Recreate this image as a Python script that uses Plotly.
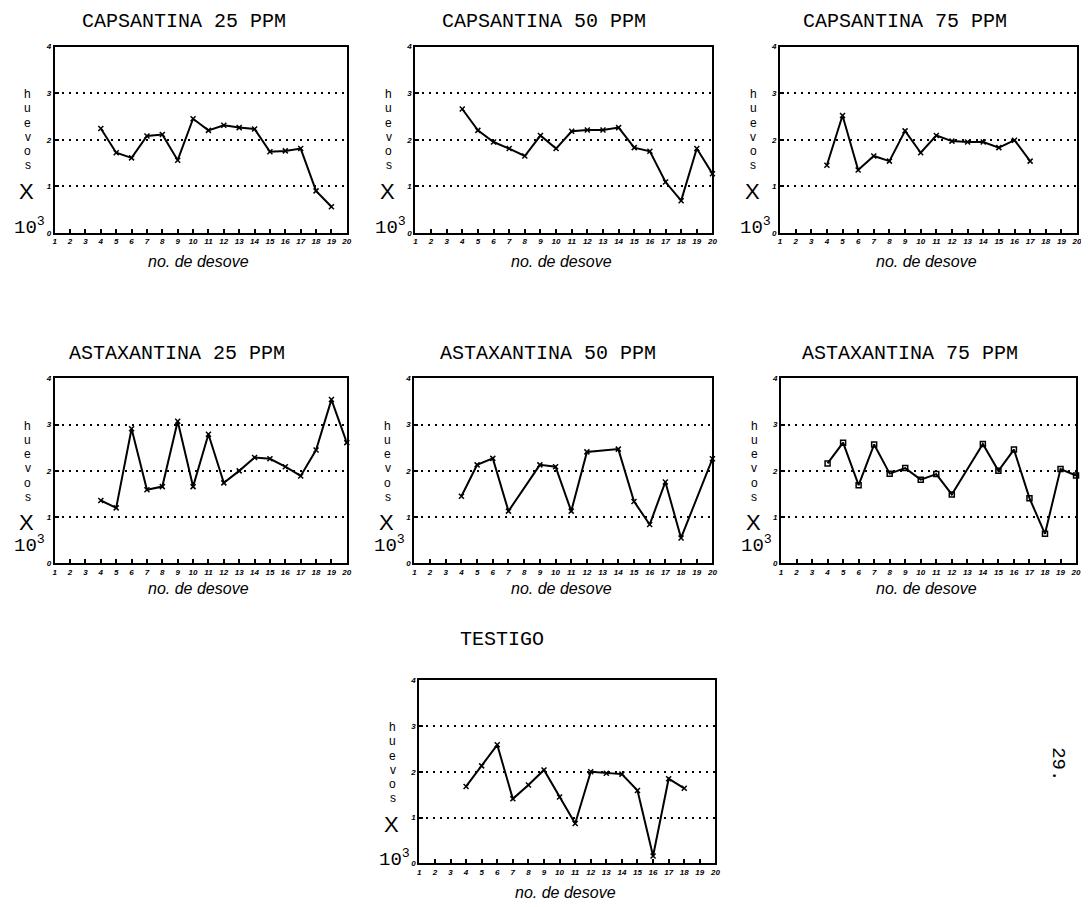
import plotly.graph_objects as go

# ---------------- data ----------------
cap25_x = [4, 5, 6, 7, 8, 9, 10, 11, 12, 13, 14, 15, 16, 17, 18, 19]
cap25_y = [2.24, 1.72, 1.61, 2.08, 2.11, 1.56, 2.45, 2.20, 2.31, 2.26, 2.23, 1.74, 1.76, 1.81, 0.90, 0.56]

cap50_x = [4, 5, 6, 7, 8, 9, 10, 11, 12, 13, 14, 15, 16, 17, 18, 19, 20]
cap50_y = [2.66, 2.20, 1.95, 1.81, 1.65, 2.09, 1.81, 2.18, 2.21, 2.21, 2.26, 1.83, 1.75, 1.09, 0.69, 1.81, 1.27]

cap75_x = [4, 5, 6, 7, 8, 9, 10, 11, 12, 13, 14, 15, 16, 17]
cap75_y = [1.45, 2.52, 1.35, 1.65, 1.54, 2.19, 1.72, 2.09, 1.97, 1.95, 1.95, 1.83, 1.99, 1.54]

ast25_x = [4, 5, 6, 7, 8, 9, 10, 11, 12, 13, 14, 15, 16, 17, 18, 19, 20]
ast25_y = [1.36, 1.20, 2.91, 1.59, 1.66, 3.07, 1.66, 2.79, 1.74, 2.00, 2.29, 2.26, 2.09, 1.89, 2.45, 3.54, 2.61]

ast50_x = [4, 5, 6, 7, 9, 10, 11, 12, 14, 15, 16, 17, 18, 20]
ast50_y = [1.45, 2.13, 2.27, 1.13, 2.13, 2.09, 1.13, 2.41, 2.47, 1.34, 0.84, 1.76, 0.55, 2.26]

ast75_x = [4, 5, 6, 7, 8, 9, 10, 11, 12, 14, 15, 16, 17, 18, 19, 20]
ast75_y = [2.16, 2.61, 1.69, 2.57, 1.94, 2.06, 1.81, 1.93, 1.49, 2.58, 2.00, 2.46, 1.41, 0.64, 2.04, 1.90]

testigo_x = [4, 5, 6, 7, 8, 9, 10, 11, 12, 13, 14, 15, 16, 17, 18]
testigo_y = [1.68, 2.13, 2.59, 1.41, 1.71, 2.04, 1.45, 0.87, 2.00, 1.97, 1.95, 1.59, 0.16, 1.85, 1.64]

titles = ["CAPSANTINA 25 PPM", "CAPSANTINA 50 PPM", "CAPSANTINA 75 PPM",
          "ASTAXANTINA 25 PPM", "ASTAXANTINA 50 PPM", "ASTAXANTINA 75 PPM", "TESTIGO"]
x_ticks = list(range(1, 21))
y_ticks = [0, 1, 2, 3, 4]
x_title = "no. de desove"
y_letters = ["h", "u", "e", "v", "o", "s"]
page_number = "29."

series = [(cap25_x, cap25_y), (cap50_x, cap50_y), (cap75_x, cap75_y),
          (ast25_x, ast25_y), (ast50_x, ast50_y), (ast75_x, ast75_y),
          (testigo_x, testigo_y)]

# ---------------- layout (window pixels) ----------------
PAGE_W, PAGE_H = 1089, 907
BODY_MARGIN = 8                      # default HTML body margin
W, H = PAGE_W - BODY_MARGIN, PAGE_H - BODY_MARGIN
# left, right, top, bottom of plot box; title centre x, y; 10^3 offset; x-title offset
boxes = [
    (53, 347, 43, 231, 183, 18, 6, 29),
    (416, 715, 43, 231, 545, 18, 6, 29),
    (783, 1082, 43, 231, 909, 18, 6, 29),
    (53, 347, 378, 565, 176, 353, 19, 25),
    (415, 715, 378, 565, 550, 353, 19, 25),
    (784, 1081, 378, 565, 914, 353, 19, 25),
    (420, 718, 683, 868, 503, 642, 5, 30),
]
symbols = ["x-thin", "x-thin", "x-thin", "x-thin", "x-thin", "square-open", "x-thin"]


def clamp(v):
    return max(0.0, min(1.0, v))


def px(x):
    return (x - BODY_MARGIN) / W


def py(y):
    return 1 - (y - BODY_MARGIN) / H


mono = "Liberation Mono"
sans = "Liberation Sans"

fig = go.Figure()
annotations = []
layout = {}
for i, ((xs, ys), (l, r, t, b, tcx, tcy, toff, xoff), sym) in enumerate(zip(series, boxes, symbols)):
    n = "" if i == 0 else str(i + 1)
    fig.add_trace(go.Scatter(
        x=xs, y=ys, mode="lines+markers", xaxis="x" + n, yaxis="y" + n,
        line=dict(color="black", width=2),
        marker=dict(symbol=sym, size=5, color="black",
                    line=dict(color="black", width=1.5)),
        showlegend=False, hoverinfo="skip", cliponaxis=False))
    layout["xaxis" + n] = dict(
        domain=[clamp(px(l)), clamp(px(r))], anchor="y" + n, range=[1, 20],
        tickvals=x_ticks, ticktext=[str(v) for v in x_ticks],
        ticks="inside", ticklen=4, tickwidth=1.5, tickcolor="black",
        showline=True, linecolor="black", linewidth=2, mirror=True,
        showgrid=False, zeroline=False,
        tickfont=dict(family=sans, size=8, color="black", style="italic", weight="bold"),
    )
    layout["yaxis" + n] = dict(
        domain=[clamp(py(b)), clamp(py(t))], anchor="x" + n, range=[0, 4],
        tickvals=y_ticks, ticktext=[str(v) for v in y_ticks],
        ticks="inside", ticklen=4, tickwidth=1.5, tickcolor="black",
        showline=True, linecolor="black", linewidth=2, mirror=True,
        showgrid=True, gridcolor="black", gridwidth=1.6, griddash="2px,5px",
        zeroline=False,
        tickfont=dict(family=sans, size=8, color="black", style="italic", weight="bold"),
    )
    # title
    annotations.append(dict(x=px(tcx), y=py(tcy), xref="paper", yref="paper",
                            text=titles[i], showarrow=False, xanchor="center", yanchor="middle",
                            font=dict(family=mono, size=20, color="black")))
    # x title
    annotations.append(dict(x=px((l + r) / 2 - 2), y=py(min(b + xoff, 897)), xref="paper", yref="paper",
                            text=x_title, showarrow=False, xanchor="center", yanchor="middle",
                            font=dict(family=sans, size=16, color="black", style="italic")))
    # y label: h u e v o s / X / 10^3
    y3 = t + (b - t) / 4
    for k, ch in enumerate(y_letters):
        annotations.append(dict(x=px(l - 27), y=py(y3 + 1 + k * 14.4), xref="paper", yref="paper",
                                text=ch, showarrow=False, xanchor="center", yanchor="middle",
                                font=dict(family=sans, size=12, color="black")))
    annotations.append(dict(x=px(l - 28), y=py(y3 + 99), xref="paper", yref="paper",
                            text="X", showarrow=False, xanchor="center", yanchor="middle",
                            font=dict(family=sans, size=22, color="black")))
    annotations.append(dict(x=px(l - 25), y=py(b - toff), xref="paper", yref="paper",
                            text="10<sup>3</sup>", showarrow=False, xanchor="center", yanchor="middle",
                            font=dict(family=mono, size=19, color="black")))

annotations.append(dict(x=px(1062), y=py(768), xref="paper", yref="paper",
                        text=page_number, showarrow=False, textangle=90,
                        xanchor="center", yanchor="middle",
                        font=dict(family=mono, size=19, color="black")))

fig.update_layout(
    width=W, height=H, margin=dict(l=0, r=0, t=0, b=0),
    paper_bgcolor="white", plot_bgcolor="white",
    annotations=annotations, **layout)

fig.write_html("out.html")
